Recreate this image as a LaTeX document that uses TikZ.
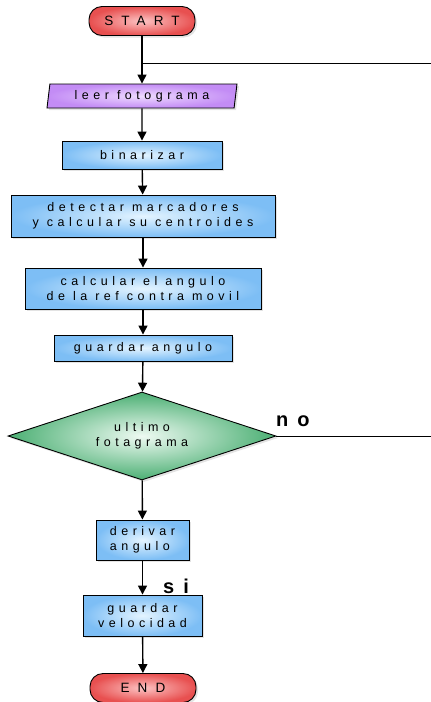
\documentclass[tikz,border=0pt]{standalone}
\usepackage{fontspec}
\setmainfont{Liberation Sans}[LetterSpace=36]
\newfontfamily\termfont{Liberation Sans}[LetterSpace=60]
\newfontfamily\boldsp{Liberation Sans}[LetterSpace=45]
\usetikzlibrary{arrows.meta,shapes.geometric,shadows}
\definecolor{redin}{RGB}{252,195,195}
\definecolor{redout}{RGB}{232,80,80}
\definecolor{bluein}{RGB}{228,244,255}
\definecolor{blueout}{RGB}{125,190,245}
\definecolor{purin}{RGB}{238,218,255}
\definecolor{purout}{RGB}{195,140,245}
\definecolor{grnin}{RGB}{238,250,242}
\definecolor{grnout}{RGB}{75,175,115}
\begin{document}
\begin{tikzpicture}[x=1pt,y=-1pt,
  base/.style={draw=black, line width=0.9pt, align=center, inner sep=0pt,
    font=\fontsize{12.5}{15.5}\selectfont,
    drop shadow={opacity=0.22, shadow xshift=2pt, shadow yshift=-2pt}},
  term/.style={base, rounded corners=13pt, minimum width=106pt, minimum height=29pt,
    inner color=redin, outer color=redout, font=\termfont\fontsize{13.5}{15}\selectfont},
  proc/.style={base, rectangle, inner color=bluein, outer color=blueout},
  io/.style={base, trapezium, trapezium left angle=76, trapezium right angle=104,
    trapezium stretches body, minimum width=190pt, minimum height=24pt,
    inner color=purin, outer color=purout},
  decis/.style={base, diamond, aspect=3.05, minimum width=268pt, minimum height=88pt,
    inner color=grnin, outer color=grnout},
  conn/.style={draw=black, line width=1.4pt, -{Triangle[width=9pt,length=9pt]}},
  loopline/.style={draw=black, line width=0.8pt},
  lbl/.style={font=\boldsp\bfseries\fontsize{20}{20}\selectfont, inner sep=0pt}
]
\useasboundingbox (0,0) rectangle (431,702);

\node[term] (start) at (142,21) {START};
\node[io] (leer) at (142,96) {leer fotograma};
\node[proc, minimum width=160pt, minimum height=28pt] (bin) at (142,155) {binarizar};
\node[proc, minimum width=264pt, minimum height=42pt] (det) at (143,216) {detectar marcadores\\y calcular su centroides};
\node[proc, minimum width=236pt, minimum height=41pt] (calc) at (143,288.5) {calcular el angulo\\de la ref contra movil};
\node[proc, minimum width=178pt, minimum height=26pt] (gang) at (143,348) {guardar angulo};
\node[decis] (dec) at (142,436) {ultimo\\fotagrama};
\node[proc, minimum width=93pt, minimum height=40pt, align=left] (der) at (142.5,540) {derivar\\angulo};
\node[proc, minimum width=119pt, minimum height=41pt] (gvel) at (142.5,615.5) {guardar\\velocidad};
\node[term] (fin) at (143,688) {END};

\node[lbl, anchor=base west] (no) at (276,426) {no};
\node[lbl, anchor=base west] (si) at (163,593) {si};

\coordinate (j) at (142,63);
\coordinate (jr) at (431,63);
\coordinate (nr) at (431,436);

\draw[conn] (start) -- (leer);
\draw[conn] (leer) -- (bin);
\draw[conn] (bin) -- (det);
\draw[conn] (det) -- (calc);
\draw[conn] (calc) -- (gang);
\draw[conn] (gang) -- (dec);
\draw[conn] (dec) -- (der);
\draw[conn] (der) -- (gvel);
\draw[conn] (gvel) -- (fin);
\draw[loopline] (jr) -- (j);
\draw[loopline] (dec.east) -- (nr);
\end{tikzpicture}
\end{document}
